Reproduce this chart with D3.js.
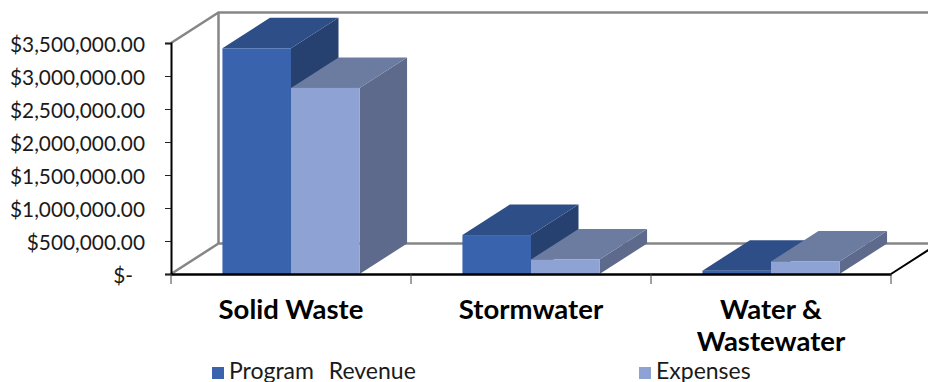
<!DOCTYPE html>
<html>
<head>
<meta charset="utf-8">
<script src="https://cdn.jsdelivr.net/npm/d3@7"></script>
<style>
html, body { margin: 0; padding: 0; background: #fff; overflow: hidden; }
svg { display: block; font-family: "Lato", "Open Sans", sans-serif; }
</style>
</head>
<body>
<svg id="chart" width="928" height="382"></svg>
<script>
// Program figures by utility, in dollars
const categories = ["Solid Waste", "Stormwater", "Water & Wastewater"];
const seriesNames = ["Program  Revenue", "Expenses"];
const programRevenue = [3420000, 590000, 50000];
const expenses = [2820000, 220000, 190000];
const valueTicks = [0, 500000, 1000000, 1500000, 2000000, 2500000, 3000000, 3500000];

const frontColors = ["#3A63AD", "#8FA2D4"];
const topColors = ["#2E4E87", "#6C7CA0"];
const sideColors = ["#264070", "#5E6A8C"];

const svg = d3.select("#chart");
const plot = { left: 171, right: 891, top: 43, bottom: 274 };
const depth = { x: 47.5, y: -30.5 };

const x = d3.scaleBand().domain(categories).range([plot.left, plot.right]);
const inner = d3.scaleBand().domain(seriesNames)
  .range([0, x.bandwidth()]).paddingOuter(0.75).paddingInner(0);
const y = d3.scaleLinear().domain([0, 3500000]).range([plot.bottom, plot.top]);

// Back wall and floor edges
const wall = svg.append("g").attr("fill", "none").attr("stroke", "#868686").attr("stroke-width", 2.5);
wall.append("path").attr("d", d3.line()([
  [plot.left, plot.top],
  [plot.left + depth.x, plot.top + depth.y],
  [928, plot.top + depth.y]
]));
wall.append("path").attr("d", d3.line()([
  [plot.left + depth.x, plot.top + depth.y],
  [plot.left + depth.x, plot.bottom + depth.y]
]));
wall.append("path").attr("d", d3.line()([
  [plot.left, plot.bottom],
  [plot.left + depth.x, plot.bottom + depth.y],
  [928, plot.bottom + depth.y]
]));

// Extruded bars, painted left to right so nearer faces overlap correctly
const bars = categories.flatMap((c, i) => [
  { c, s: 0, v: programRevenue[i] },
  { c, s: 1, v: expenses[i] }
]);
const barWidth = inner.bandwidth();
const bar = svg.append("g").selectAll("g").data(bars).join("g");
bar.append("path")
  .attr("fill", d => sideColors[d.s])
  .attr("d", d => {
    const r = x(d.c) + inner(seriesNames[d.s]) + barWidth;
    return d3.line()([[r, y(d.v)], [r + depth.x, y(d.v) + depth.y],
      [r + depth.x, y(0) + depth.y], [r, y(0)]]) + "Z";
  });
bar.append("path")
  .attr("fill", d => topColors[d.s])
  .attr("d", d => {
    const l = x(d.c) + inner(seriesNames[d.s]);
    return d3.line()([[l, y(d.v)], [l + depth.x, y(d.v) + depth.y],
      [l + barWidth + depth.x, y(d.v) + depth.y], [l + barWidth, y(d.v)]]) + "Z";
  });
bar.append("rect")
  .attr("fill", d => frontColors[d.s])
  .attr("x", d => x(d.c) + inner(seriesNames[d.s]))
  .attr("width", barWidth)
  .attr("y", d => y(d.v))
  .attr("height", d => y(0) - y(d.v));

// Floor edge running off to the right
svg.append("path").attr("fill", "none").attr("stroke", "#000").attr("stroke-width", 2)
  .attr("d", d3.line()([[plot.right, plot.bottom],
    [plot.right + depth.x, plot.bottom + depth.y]]));

// Value axis
const money = d3.format(",.2f");
const yAxis = svg.append("g")
  .attr("transform", `translate(${plot.left},0)`)
  .call(d3.axisLeft(y).tickValues(valueTicks).tickSize(6).tickPadding(20)
    .tickFormat(d => d === 0 ? "$-" : "$" + money(d)));
yAxis.select(".domain").attr("stroke", "#000").attr("stroke-width", 2);
yAxis.selectAll(".tick line").attr("stroke", "#222");
yAxis.selectAll(".tick text")
  .attr("fill", "#1a1a1a")
  .attr("font-family", "Lato")
  .attr("font-size", 20.8)
  .attr("dy", "0.42em")
  .attr("x", d => d === 0 ? -38 : -26);

// Category axis, with the long name wrapped onto two lines
const xAxis = svg.append("g")
  .attr("transform", `translate(0,${plot.bottom})`)
  .call(d3.axisBottom(x).tickValues([]).tickSizeOuter(0));
xAxis.select(".domain").attr("stroke", "#000").attr("stroke-width", 2.5);
xAxis.selectAll(".sep")
  .data(d3.range(categories.length + 1))
  .join("line")
  .attr("class", "sep")
  .attr("x1", i => plot.left + i * x.step())
  .attr("x2", i => plot.left + i * x.step())
  .attr("y1", 0).attr("y2", 10)
  .attr("stroke", "#444");

const wrapped = [["Solid Waste"], ["Stormwater"], ["Water &", "Wastewater"]];
svg.append("g").selectAll("text").data(categories).join("text")
  .attr("text-anchor", "middle")
  .attr("font-weight", 700)
  .attr("font-size", 27.5)
  .attr("fill", "#000")
  .each(function (c, i) {
    d3.select(this).selectAll("tspan").data(wrapped[i]).join("tspan")
      .attr("x", x(c) + x.bandwidth() / 2)
      .attr("y", (t, k) => 319 + k * 32)
      .text(t => t);
  });

// Legend
const legendX = [212, 639];
const legend = svg.append("g").selectAll("g").data(seriesNames).join("g")
  .attr("transform", (d, i) => `translate(${legendX[i]},0)`);
legend.append("rect").attr("y", 367).attr("width", 12).attr("height", 12)
  .attr("fill", (d, i) => frontColors[i]);
legend.append("text").attr("x", 17).attr("y", 379)
  .attr("font-size", 23).attr("fill", "#1a1a1a")
  .style("white-space", "pre").style("word-spacing", "1.5px")
  .text(d => d);
</script>
</body>
</html>
